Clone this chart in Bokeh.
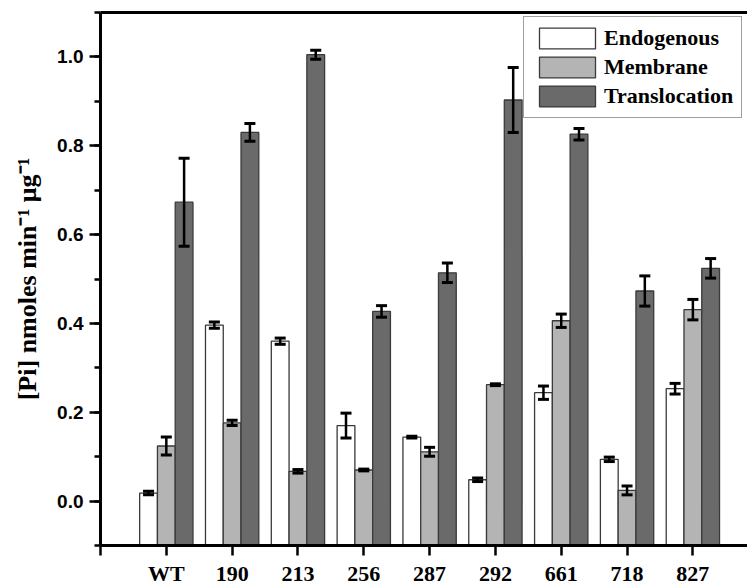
from bokeh.plotting import figure
from bokeh.models import (ColumnDataSource, Range1d, LinearAxis, FixedTicker,
                          SingleIntervalTicker, Whisker, TeeHead, PrintfTickFormatter)
from bokeh.embed import file_html
from bokeh.resources import INLINE

categories = ["WT", "190", "213", "256", "287", "292", "661", "718", "827"]
endogenous = [0.018, 0.396, 0.360, 0.170, 0.144, 0.048, 0.244, 0.094, 0.253]
endogenous_err = [0.004, 0.007, 0.007, 0.028, 0.002, 0.004, 0.015, 0.005, 0.012]
membrane = [0.124, 0.176, 0.067, 0.070, 0.111, 0.262, 0.406, 0.024, 0.431]
membrane_err = [0.020, 0.006, 0.004, 0.002, 0.010, 0.002, 0.015, 0.010, 0.023]
translocation = [0.673, 0.830, 1.005, 0.427, 0.514, 0.903, 0.826, 0.473, 0.524]
translocation_err = [0.099, 0.020, 0.010, 0.013, 0.022, 0.073, 0.013, 0.034, 0.022]
series_names = ["Endogenous", "Membrane", "Translocation"]

Y0, Y1 = -0.1, 1.1
BW = 0.27
pos = list(range(1, len(categories) + 1))

p = figure(width=747, height=588, output_backend="svg", toolbar_location=None,
           x_range=Range1d(0, 9.83), y_range=Range1d(Y0, Y1),
           min_border_left=100, min_border_right=0, min_border_top=12, min_border_bottom=41)
p.outline_line_color = None
p.grid.visible = False
p.background_fill_color = "white"

fills = ["#ffffff", "#b4b4b4", "#6a6a6a"]
offsets = [-BW, 0.0, BW]
vals = [endogenous, membrane, translocation]
errs = [endogenous_err, membrane_err, translocation_err]

for name, fill, off, v, e in zip(series_names, fills, offsets, vals, errs):
    xs = [x + off for x in pos]
    src = ColumnDataSource(dict(x=xs, top=v, upper=[a + b for a, b in zip(v, e)],
                                lower=[a - b for a, b in zip(v, e)]))
    p.vbar(x="x", top="top", bottom=Y0, width=BW, source=src, fill_color=fill,
           line_color="#3a3a3a", line_width=1.3, legend_label=name)
    w = Whisker(base="x", upper="upper", lower="lower", source=src, level="annotation",
                line_color="black", line_width=2.5,
                upper_head=TeeHead(size=11, line_width=3, line_color="black"),
                lower_head=TeeHead(size=11, line_width=3, line_color="black"))
    p.add_layout(w)

# x axis
xa = p.xaxis[0]
xa.ticker = FixedTicker(ticks=[0] + pos)
xa.major_label_overrides = {0: ""} | {i: c for i, c in zip(pos, categories)}
xa.axis_line_width = 3
xa.major_tick_line_width = 2.5
xa.major_tick_out = 10
xa.major_tick_in = 0
xa.minor_tick_out = 0
xa.minor_tick_in = 0
xa.major_label_text_font = "Liberation Serif"
xa.major_label_text_font_style = "bold"
xa.major_label_text_font_size = "22px"
xa.major_label_text_color = "black"
xa.major_label_standoff = 5

# y axis
ya = p.yaxis[0]
ya.ticker = SingleIntervalTicker(interval=0.2, num_minor_ticks=2)
ya.formatter = PrintfTickFormatter(format="%.1f")
ya.axis_line_width = 3
ya.major_tick_line_width = 2.5
ya.minor_tick_line_width = 2.5
ya.major_tick_out = 11
ya.major_tick_in = 0
ya.minor_tick_out = 6
ya.minor_tick_in = 0
ya.major_label_text_font = "Liberation Sans"
ya.major_label_text_font_style = "bold"
ya.major_label_text_font_size = "19px"
ya.major_label_text_color = "black"
ya.major_label_standoff = 6
ya.axis_label = "[Pi] nmoles min\u207b\u00b9 \u03bcg\u207b\u00b9"
ya.axis_label_text_font = "Liberation Serif"
ya.axis_label_text_font_style = "bold"
ya.axis_label_text_font_size = "26px"
ya.axis_label_text_color = "black"
ya.axis_label_standoff = 12

# top border line
top = LinearAxis(ticker=FixedTicker(ticks=[]), major_label_text_font_size="0px",
                 major_tick_out=0, major_tick_in=0, minor_tick_out=0, minor_tick_in=0,
                 axis_line_width=3, major_label_standoff=0)
p.add_layout(top, "above")

lg = p.legend[0]
lg.location = (423, 427)
lg.margin = 0
lg.padding = 8
lg.spacing = 3
lg.glyph_width = 70
lg.glyph_height = 26
lg.label_height = 26
lg.label_standoff = 2
lg.label_text_font = "Liberation Serif"
lg.label_text_font_style = "bold"
lg.label_text_font_size = "22px"
lg.label_text_color = "black"
lg.border_line_color = "#404040"
lg.border_line_width = 1.5
lg.background_fill_alpha = 1.0

open("out.html", "w").write(file_html(p, INLINE))
